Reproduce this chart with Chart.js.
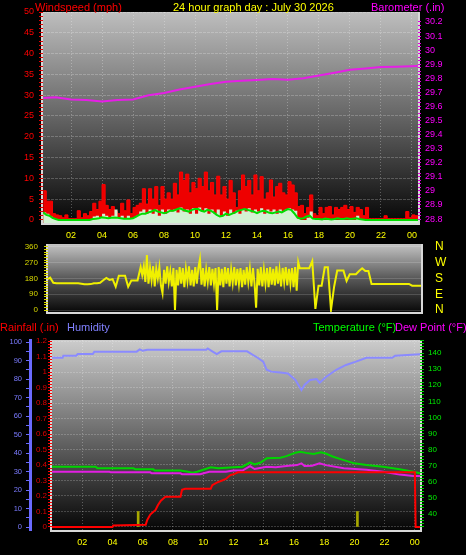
<!DOCTYPE html>
<html><head><meta charset="utf-8">
<script src="https://cdn.jsdelivr.net/npm/chart.js@4.4.1/dist/chart.umd.min.js"></script>
<style>
html,body{margin:0;padding:0;background:#000;}
#wrap{position:relative;width:466px;height:555px;overflow:hidden;background:#000;font-family:"Liberation Sans",Arial,sans-serif;}
canvas{position:absolute;left:0;}
.t{position:absolute;font-size:11px;line-height:12px;white-space:nowrap;}
</style></head><body>
<div id="wrap">
<canvas id="c1" width="466" height="245" style="top:0px"></canvas>
<canvas id="c2" width="466" height="100" style="top:228px"></canvas>
<canvas id="c3" width="466" height="235" style="top:320px"></canvas>
<div class="t" style="left:35px;top:1px;color:#ff0000">Windspeed (mph)</div>
<div class="t" style="left:173px;top:1px;color:#ffff00">24 hour graph day : July 30 2026</div>
<div class="t" style="left:371px;top:1px;color:#ff00ff">Barometer (.in)</div>
<div class="t" style="left:0px;top:321px;color:#ff0000">Rainfall (.in)</div>
<div class="t" style="left:67px;top:321px;color:#8080ff">Humidity</div>
<div class="t" style="left:313px;top:321px;color:#00ff00">Temperature (°F)</div>
<div class="t" style="left:395px;top:321px;color:#ff00ff">Dew Point (°F)</div>
</div>
<script>
// ---------- tick labels ----------
const hourTicks = [2,4,6,8,10,12,14,16,18,20,22,24];
const hourLabels = ['02','04','06','08','10','12','14','16','18','20','22','00'];
const windTicks = [0,5,10,15,20,25,30,35,40,45,50];
const baroTicks = [28.8,28.9,29,29.1,29.2,29.3,29.4,29.5,29.6,29.7,29.8,29.9,30,30.1,30.2];
const dirTicks = [0,90,180,270,360];
const compassLabels = ['N','E','S','W','N'];
const humTicks = [0,10,20,30,40,50,60,70,80,90,100];
const rainTicks = [0,0.1,0.2,0.3,0.4,0.5,0.6,0.7,0.8,0.9,1,1.1,1.2];
const tempTicks = [40,50,60,70,80,90,100,110,120,130,140];

// ---------- wind speed (hours of day) ----------
const windHours = [
 0.2,0.4,0.6,0.8,1.0,1.2,1.4,1.6,1.8,2.0,
 2.2,2.4,2.6,2.8,3.0,3.2,3.4,3.6,3.8,4.0,
 4.2,4.4,4.6,4.8,5.0,5.2,5.4,5.6,5.8,6.0,
 6.2,6.4,6.6,6.8,7.0,7.2,7.4,7.6,7.8,8.0,
 8.2,8.4,8.6,8.8,9.0,9.2,9.4,9.6,9.8,10.0,
 10.2,10.4,10.6,10.8,11.0,11.2,11.4,11.6,11.8,12.0,
 12.2,12.4,12.6,12.8,13.0,13.2,13.4,13.6,13.8,14.0,
 14.2,14.4,14.6,14.8,15.0,15.2,15.4,15.6,15.8,16.0,
 16.2,16.4,16.6,16.8,17.0,17.2,17.4,17.6,17.8,18.0,
 18.2,18.4,18.6,18.8,19.0,19.2,19.4,19.6,19.8,20.0,
 20.2,20.4,20.6,20.8,21.0,21.2,21.4,21.6,21.8,22.0,
 22.2,22.4,22.6,22.8,23.0,23.2,23.4,23.6,23.8,24.0,
 24.2,24.4];
const windGust = [
 7,4.5,4.5,1.5,1.2,1,0.5,1.2,0.3,0.3,
 0.3,2.2,0.5,1.5,1,2,4,2.5,4.5,8.5,
 3.5,2.5,3.2,2,1.5,4,2.2,4.8,1.5,3,
 3.5,4,7.5,3.8,7.5,5,8,3.5,8,5,
 6.5,5,8.8,6,11.5,9.5,11,6.5,9,7.5,
 10,8,11.5,7,9,6,10.5,6,8,5,
 9.5,6.5,3,7,10.8,8,9.5,6,10.8,7,
 10.4,5,6.5,9.6,5.5,8,8.8,6.5,6,9.2,
 8.4,6.5,3.2,3.5,1.5,3,6,1.5,1,3,
 1.5,3,3.2,1.2,3,2.5,3,3.5,2.5,3.2,
 1.8,3,2.5,1,3,0.3,0.3,0.3,0.3,0.3,
 1,0.3,0.3,0.3,0.3,0.3,0.3,2,0.5,1.2,
 1,1.2];
const windSpeed = [
 1.8,1.5,0.8,0.3,0,0,0,0,0,0,
 0,0,0,0,0,0,0.8,1,0.5,1.5,
 1,0.5,1,2.5,0.5,1,0.2,1,0.3,0.5,
 1,2,2.5,1.5,2.5,1.5,2.5,1,2.5,1.5,
 2.5,2,2.5,1.8,3,2,2.5,1.5,2.8,1.5,
 3,2,2.8,1.5,2.5,1.5,2.5,1,2,1,
 2.5,1.5,2.2,1.5,2.5,2,2.8,1.8,2.5,2,
 2.8,1.5,2.5,2,2.5,1.5,2.5,2,2.5,2.8,
 2.5,2.2,0.3,0,0,0.5,2,0.3,0,0,
 0,0,0,0,0,0,0,0,0,0,
 0,1,0,0,0,0,0,0,0,0,
 0,0,0,0,0,0,0,0,0,0,
 0,0];
const windAvg = [
 1.8,1.2,1,0.5,0.2,0,0,0,0,0,
 0,0,0,0,0,0,0.2,0.3,0.4,0.6,
 0.5,0.4,0.5,0.6,0.5,0.4,0.3,0.3,0.3,0.4,
 0.8,1.2,1.5,1.5,1.8,2,2.4,2,1.8,1.6,
 1.8,2.2,2.2,2.5,2.8,2.5,2.2,2,2.4,2.6,
 2.6,2.2,2,2.4,2.2,1.8,1.2,0.8,1,1.5,
 1.2,1.5,1.8,2.2,2.4,2.6,2.4,2.2,2,1.6,
 2,2.2,2,1.7,1.6,1.8,2,1.8,2.2,2.6,
 2.4,1.6,0.6,0.3,0.4,0.8,1,0.3,0.2,0.2,
 0.1,0.3,0.2,0.1,0.2,0.4,0.2,0.2,0.4,0.2,
 0.3,0.4,0.2,0.1,0,0,0,0,0,0,
 0,0,0,0,0,0,0,0,0,0,
 0,0];

// ---------- wind direction (hours of day, degrees) ----------
const dirHours = [
 0.2,0.4,0.6,0.8,1.0,1.2,1.4,1.6,1.8,2.0,
 2.2,2.4,2.6,2.8,3.0,3.2,3.4,3.6,3.8,4.0,
 4.2,4.4,4.6,4.8,5.0,5.2,5.4,5.6,5.8,6.0,
 6.2,
 6.4,6.5,6.6,6.7,6.8,6.9,7.0,7.1,7.2,7.3,
 7.4,7.5,7.6,7.7,7.8,7.9,8.0,8.1,8.2,8.3,
 8.4,8.5,8.6,8.7,8.8,8.9,9.0,9.1,9.2,9.3,
 9.4,9.5,9.6,9.7,9.8,9.9,10.0,10.1,10.2,10.3,
 10.4,10.5,10.6,10.7,10.8,10.9,11.0,11.1,11.2,11.3,
 11.4,11.5,11.6,11.7,11.8,11.9,12.0,12.1,12.2,12.3,
 12.4,12.5,12.6,12.7,12.8,12.9,13.0,13.1,13.2,13.3,
 13.4,13.5,13.6,13.7,13.8,13.9,14.0,14.1,14.2,14.3,
 14.4,14.5,14.6,14.7,14.8,14.9,15.0,15.1,15.2,15.3,
 15.4,15.5,15.6,15.7,15.8,15.9,16.0,16.1,16.2,16.3,
 16.4,16.5,16.6,
 16.8,17.0,17.2,17.4,17.6,17.8,18.0,18.2,18.4,18.6,
 18.8,19.0,19.2,19.4,19.6,19.8,20.0,20.2,20.4,20.6,
 20.8,21.0,21.2,21.4,21.6,21.8,22.0,22.2,22.4,22.6,
 22.8,23.0,23.2,23.4,23.6,23.8,24.0,24.2,24.4];
const windDir = [
 185,175,185,155,153,153,153,153,153,153,
 153,153,150,147,147,148,153,153,155,170,
 183,172,176,133,196,196,196,133,168,168,
 168,
 245,200,250,160,314,150,240,170,250,135,
 235,180,245,140,97,230,150,250,160,220,
 135,240,0,230,140,245,150,240,130,235,
 165,250,140,230,135,245,150,240,291,145,
 240,135,230,160,245,140,235,150,240,0,
 245,140,235,130,245,150,240,135,230,155,
 245,140,235,150,240,130,230,145,245,160,
 235,135,240,150,13,235,140,245,135,230,
 150,240,130,245,145,235,140,250,150,230,
 135,240,160,245,140,235,150,240,130,245,
 110,274,238,
 238,238,238,280,6,139,139,244,244,0,
 133,225,225,225,166,204,204,204,223,238,
 223,223,149,149,149,149,149,149,149,149,
 149,149,149,149,149,139,139,139,139];

// ---------- barometer ----------
const baroHours = [0.2,1,2,3,4,5,6,7,8,9,10,11,12,13,14,15,16,17,18,19,20,21,22,23,24.4];
const baroValues = [29.66,29.665,29.65,29.645,29.635,29.645,29.65,29.68,29.695,29.72,29.74,29.76,29.775,29.782,29.788,29.795,29.79,29.80,29.82,29.84,29.86,29.87,29.88,29.882,29.888];

// ---------- humidity / temperature / dew point / rain ----------
const humHours = [0,0.7,0.75,1.6,1.7,2.7,2.8,5.6,5.8,6.0,6.3,10.2,10.3,10.6,10.9,11.2,12.9,13.3,13.6,13.97,14.2,14.5,15.1,15.6,16.1,16.5,16.7,17.07,17.5,17.7,18.1,18.8,19.45,20.1,20.8,22.5,22.7,24.34];
const humValues = [91.5,91.5,92.6,92.6,93.5,93.5,94.8,94.8,96,95.3,95.8,95.8,96.5,95,93.5,95,95,93,91.5,89.4,85,84,83.5,83,79.5,74,76.8,79.5,80,78,81,85,87.6,89.4,91.5,91.5,92.6,93.4];
const tempHours = [0,2.9,3.0,5.4,5.5,6.7,6.8,8.5,9.0,9.3,9.6,10.0,10.5,11.0,12.0,12.6,13.1,13.4,13.8,14.2,15.1,15.5,16.1,16.4,16.8,17.3,17.8,18.1,18.6,19.3,20.0,20.8,21.9,23.0,23.9,24.34];
const tempValues = [69.4,69.4,68.4,68.4,67.8,67.8,67,67,66.3,65.7,66.3,67.5,69,68.4,69,69.4,72.1,70.8,72,74.6,75,76,78.1,78.7,78,77.3,78.4,77.6,75.6,73.5,71.5,70.4,69.4,67.8,66.3,65.3];
const dewHours = [0,3.8,3.9,6.5,6.6,8.5,8.6,9.8,10.4,11.5,12.0,12.6,13.1,13.4,14.2,14.8,15.5,16.2,16.5,16.7,17.2,17.7,18.1,19.3,20.8,21.9,23.0,23.9,24.34];
const dewValues = [66.3,66.3,65.9,65.9,65.3,65.3,64.8,64.8,66.3,66.3,67,67,69.8,68,69.4,69,69.8,70.4,71.5,69.8,70,71.5,70.4,68.4,67.5,66.3,64.5,63.6,63.6];
const rainHours = [0,4.0,4.05,6.2,6.3,6.5,6.85,7.0,7.2,7.5,8.5,8.6,8.8,10.5,10.6,10.9,11.25,11.5,11.8,12.0,12.3,24.0,24.05,24.34];
const rainValues = [0,0,0.01,0.015,0.045,0.08,0.11,0.14,0.17,0.195,0.195,0.24,0.247,0.247,0.27,0.286,0.30,0.31,0.335,0.34,0.353,0.353,0,0];
const rateHours = [5.7,20.2];
const rateValues = [0.1,0.1];

// ---------- helpers ----------
Chart.defaults.font.family = '"Liberation Sans", Arial, sans-serif';
const pts = (xs, ys) => xs.map((x, i) => ({x: x, y: ys[i]}));
const near = (v, list) => list.some(t => Math.abs(t - v) < 1e-6);
const setTicks = values => scale => { scale.ticks = values.map(v => ({value: v})); };
function minorSteps(a, b, step) { const out = []; for (let v = a; v <= b + 1e-9; v += step) out.push(Math.round(v * 1000) / 1000); return out; }
const fmt1 = v => String(Math.round(v * 10) / 10);
const clear = 'rgba(0,0,0,0)';

const panel = {
  id: 'panel',
  beforeDraw(chart, args, opts) {
    const {ctx, chartArea: a} = chart;
    const g = ctx.createLinearGradient(0, a.top, 0, a.bottom);
    opts.stops.forEach(s => g.addColorStop(s[0], s[1]));
    ctx.save();
    ctx.fillStyle = g;
    ctx.fillRect(a.left, a.top, a.right - a.left, a.bottom - a.top);
    ctx.strokeStyle = opts.frame;
    ctx.lineWidth = 2;
    ctx.beginPath();
    ctx.moveTo(a.left - 1, a.top);
    ctx.lineTo(a.left - 1, a.bottom + 1);
    ctx.lineTo(a.right + 1, a.bottom + 1);
    ctx.lineTo(a.right + 1, a.top);
    ctx.stroke();
    ctx.restore();
  }
};
const base = {responsive: false, animation: false, devicePixelRatio: 1, events: []};

// ---------- chart 1: wind + barometer ----------
new Chart(document.getElementById('c1'), {
  type: 'line',
  data: {datasets: [
    {label: 'Barometer', data: pts(baroHours, baroValues), yAxisID: 'yBaro', borderColor: '#e61ee6', borderWidth: 2, pointRadius: 0, order: 0},
    {label: 'Average', data: pts(windHours, windAvg), yAxisID: 'yWind', borderColor: '#00dd00', borderWidth: 2, pointRadius: 0, order: 1},
    {label: 'Wind Speed', data: pts(windHours, windSpeed), yAxisID: 'yWind', stepped: true, borderWidth: 0, borderColor: clear, backgroundColor: '#d2f2d2', fill: 'start', pointRadius: 0, order: 2},
    {label: 'Gust', data: pts(windHours, windGust), yAxisID: 'yWind', stepped: true, borderWidth: 1, borderColor: '#ff0000', backgroundColor: '#ee0000', fill: 'start', pointRadius: 0, order: 3}
  ]},
  options: Object.assign({}, base, {
    layout: {padding: {top: 12, left: 0, right: 0, bottom: 0}},
    plugins: {legend: {display: false}, tooltip: {enabled: false},
      panel: {stops: [[0, '#bebebe'], [0.5, '#646464'], [1, '#060606']], frame: '#d8d8d8'}},
    scales: {
      x: {type: 'linear', offset: false, min: 0.19, max: 24.39, afterBuildTicks: setTicks(hourTicks), afterFit: s => { s.height = 22; },
        ticks: {color: '#ffff00', font: {size: 9}, padding: 7, autoSkip: false, maxRotation: 0, callback: (v, i) => hourLabels[i]},
        grid: {color: 'rgba(255,255,255,0.28)', drawTicks: false}, border: {display: false, dash: [1, 2]}},
      yWind: {type: 'linear', position: 'left', min: -0.75, max: 50, afterBuildTicks: setTicks(minorSteps(0, 50, 1)), afterFit: s => { s.width = 43; },
        ticks: {color: '#ff0000', font: {size: 9}, padding: 5, autoSkip: false, callback: v => near(v, windTicks) ? String(v) : ''},
        grid: {color: c => near(c.tick.value, windTicks) ? 'rgba(255,255,255,0.22)' : clear, tickColor: '#e00000', tickLength: 4},
        border: {display: false, dash: [3, 1]}},
      yBaro: {type: 'linear', position: 'right', min: 28.772, max: 30.271, afterBuildTicks: setTicks(minorSteps(28.8, 30.2, 0.025)), afterFit: s => { s.width = 48; },
        ticks: {color: '#ff00ff', font: {size: 9}, padding: 4, autoSkip: false, callback: v => near(v, baroTicks) ? fmt1(v) : ''},
        grid: {drawOnChartArea: false, tickColor: '#e000e0', tickLength: 3}, border: {display: false}}
    }
  }),
  plugins: [panel]
});

// ---------- chart 2: wind direction ----------
new Chart(document.getElementById('c2'), {
  type: 'line',
  data: {datasets: [
    {label: 'Direction', data: pts(dirHours, windDir), yAxisID: 'yDir', borderColor: '#f0f000', borderWidth: 2, pointRadius: 0}
  ]},
  options: Object.assign({}, base, {
    layout: {padding: {top: 16, left: 0, right: 0, bottom: 16}},
    plugins: {legend: {display: false}, tooltip: {enabled: false},
      panel: {stops: [[0, '#c4c4c4'], [0.5, '#5a5a5a'], [1, '#080808']], frame: '#d8d8d8'}},
    scales: {
      x: {type: 'linear', offset: false, min: 0.46, max: 24.37, display: false},
      yDir: {type: 'linear', position: 'left', min: -11.4, max: 377, afterBuildTicks: setTicks(minorSteps(0, 360, 15)), afterFit: s => { s.width = 48; },
        ticks: {color: '#d8d800', font: {size: 8}, padding: 6, autoSkip: false, callback: v => near(v, dirTicks) ? String(v) : ''},
        grid: {color: c => near(c.tick.value, dirTicks) ? 'rgba(255,255,255,0.16)' : clear, tickColor: '#dada00', tickLength: 4},
        border: {display: false}},
      yCompass: {type: 'linear', position: 'right', min: -11.4, max: 377, afterBuildTicks: setTicks(dirTicks), afterFit: s => { s.width = 45; },
        ticks: {color: '#ffff00', font: {size: 12}, padding: 2, autoSkip: false, callback: (v, i) => compassLabels[i]},
        grid: {display: true, drawOnChartArea: false, drawTicks: true, tickLength: 12, tickColor: clear}, border: {display: false}}
    }
  }),
  plugins: [panel]
});

// ---------- chart 3: rain / humidity / temperature / dew point ----------
new Chart(document.getElementById('c3'), {
  type: 'line',
  data: {datasets: [
    {label: 'Rainfall', data: pts(rainHours, rainValues), yAxisID: 'yRain', borderColor: '#ff0000', borderWidth: 2, pointRadius: 0, order: 0},
    {label: 'Dew Point', data: pts(dewHours, dewValues), yAxisID: 'yTemp', borderColor: '#e21ee2', borderWidth: 2, pointRadius: 0, order: 1},
    {label: 'Temperature', data: pts(tempHours, tempValues), yAxisID: 'yTemp', borderColor: '#00d400', borderWidth: 2, pointRadius: 0, order: 2},
    {label: 'Humidity', data: pts(humHours, humValues), yAxisID: 'yHum', borderColor: '#8a8aff', borderWidth: 2, pointRadius: 0, order: 3},
    {type: 'bar', label: 'Rain rate', data: pts(rateHours, rateValues), yAxisID: 'yRain', backgroundColor: '#a8a800', barThickness: 2, order: 4}
  ]},
  options: Object.assign({}, base, {
    layout: {padding: {top: 20, left: 0, right: 0, bottom: 0}},
    plugins: {legend: {display: false}, tooltip: {enabled: false},
      panel: {stops: [[0, '#cccccc'], [0.5, '#6a6a6a'], [1, '#060606']], frame: '#d8d8d8'}},
    scales: {
      x: {type: 'linear', offset: false, min: 0, max: 24.34, afterBuildTicks: setTicks(hourTicks), afterFit: s => { s.height = 25; },
        ticks: {color: '#ffff00', font: {size: 9}, padding: 7, autoSkip: false, maxRotation: 0, callback: (v, i) => hourLabels[i]},
        grid: {offset: false, color: 'rgba(255,255,255,0.28)', drawTicks: false}, border: {display: false, dash: [1, 2]}},
      yHum: {type: 'linear', position: 'left', weight: 1, min: -1.6, max: 101.1, afterBuildTicks: setTicks(minorSteps(0, 100, 5)), afterFit: s => { s.width = 30; },
        ticks: {color: '#7b7bff', font: {size: 7.5}, padding: 4, autoSkip: false, callback: v => near(v, humTicks) ? String(v) : ''},
        grid: {drawOnChartArea: false, tickColor: '#6a6aff', tickLength: 4}, border: {display: true, color: '#6a6aff', width: 3}},
      yRain: {type: 'linear', position: 'left', weight: 0, min: -0.0194, max: 1.2065, afterBuildTicks: setTicks(minorSteps(0, 1.2, 0.02)), afterFit: s => { s.width = 22; },
        ticks: {color: '#e00000', font: {size: 8}, padding: 1, autoSkip: false, callback: v => near(v, rainTicks) ? fmt1(v) : ''},
        grid: {color: c => near(c.tick.value, rainTicks) ? 'rgba(255,255,255,0.2)' : clear, tickColor: '#ff0000', tickLength: 4},
        border: {display: false, dash: [2, 1]}},
      yTemp: {type: 'linear', position: 'right', min: 30.1, max: 148.1, afterBuildTicks: setTicks(minorSteps(32, 148, 2)), afterFit: s => { s.width = 46; },
        ticks: {color: '#00ee00', font: {size: 8}, padding: 4, autoSkip: false, callback: v => near(v, tempTicks) ? String(v) : ''},
        grid: {drawOnChartArea: false, tickColor: '#00d000', tickLength: 4}, border: {display: false}}
    }
  }),
  plugins: [panel]
});
</script>
</body></html>
